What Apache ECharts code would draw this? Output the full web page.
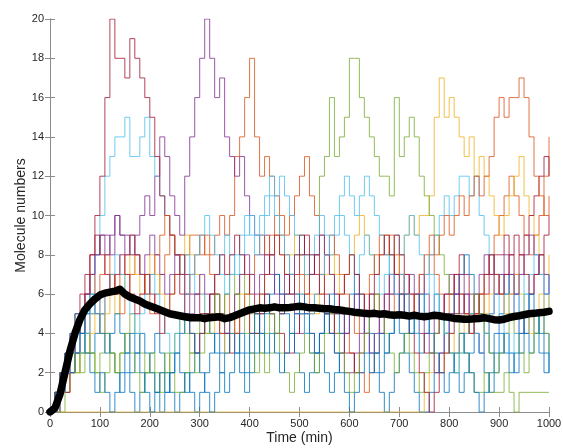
<!DOCTYPE html>
<html>
<head>
<meta charset="utf-8">
<script src="https://cdn.jsdelivr.net/npm/echarts@6/dist/echarts.min.js"></script>
<style>
  html, body { margin: 0; padding: 0; background: #fff; }
  #chart { width: 563px; height: 448px; }
</style>
</head>
<body>
<div id="chart"></div>
<script>
// 轨迹数据，每 10 min 一个采样点 (0 ~ 1000)
const blue1 = [
  0, 0, 1, 2, 3, 4, 5, 4, 3, 4,
  5, 4, 3, 2, 1, 2, 1, 0, 1, 2,
  3, 4, 3, 2, 1, 0, 1, 2, 1, 0,
  1, 2, 3, 4, 3, 4, 5, 4, 3, 2,
  3, 4, 5, 6, 5, 4, 5, 6, 7, 6,
  5, 4, 3, 2, 3, 2, 1, 2, 3, 4,
  5, 6, 5, 4, 3, 2, 1, 0, 1, 2,
  3, 4, 5, 4, 3, 4, 5, 6, 5, 4,
  3, 2, 1, 2, 3, 4, 3, 2, 1, 2,
  3, 4, 3, 2, 3, 4, 5, 4, 3, 2,
  3
]
const orange1 = [
  0, 1, 2, 2, 3, 4, 3, 4, 5, 6,
  5, 6, 7, 6, 5, 6, 7, 8, 7, 6,
  5, 6, 7, 8, 9, 8, 7, 8, 9, 9,
  8, 9, 8, 9, 10, 9, 10, 13, 14, 16,
  18, 14, 12, 13, 12, 11, 10, 9, 10, 11,
  12, 13, 11, 10, 9, 8, 7, 6, 5, 4,
  3, 2, 2, 1, 2, 3, 4, 5, 6, 5,
  6, 7, 6, 5, 6, 7, 8, 7, 6, 5,
  6, 7, 6, 5, 4, 5, 6, 7, 8, 9,
  10, 11, 12, 11, 10, 9, 8, 9, 10, 12,
  14
]
const yellow1 = [
  0, 0, 1, 1, 2, 2, 3, 3, 4, 5,
  4, 5, 6, 5, 6, 7, 8, 7, 6, 7,
  8, 7, 6, 5, 6, 7, 8, 9, 8, 7,
  6, 5, 4, 5, 4, 3, 4, 5, 6, 5,
  4, 5, 6, 7, 8, 9, 8, 7, 8, 9,
  8, 7, 6, 5, 6, 7, 8, 7, 6, 7,
  8, 9, 10, 9, 8, 7, 8, 9, 8, 7,
  8, 9, 10, 9, 10, 10, 11, 15, 17, 15,
  16, 15, 14, 13, 14, 12, 13, 12, 11, 10,
  9, 10, 11, 12, 13, 11, 10, 9, 8, 7,
  8
]
const purple1 = [
  0, 1, 2, 3, 3, 4, 5, 6, 7, 8,
  9, 9, 8, 10, 9, 9, 8, 9, 10, 11,
  10, 12, 14, 13, 11, 10, 9, 12, 14, 16,
  18, 20, 18, 16, 17, 14, 13, 12, 13, 11,
  10, 9, 8, 9, 8, 7, 6, 7, 6, 5,
  4, 5, 4, 3, 4, 5, 4, 3, 3, 2,
  2, 3, 4, 5, 6, 5, 4, 5, 6, 7,
  7, 6, 5, 6, 7, 6, 5, 4, 5, 6,
  7, 6, 5, 6, 5, 4, 3, 4, 5, 6,
  6, 7, 6, 5, 4, 5, 6, 7, 8, 7,
  6
]
const green1 = [
  0, 0, 0, 1, 2, 3, 2, 3, 3, 2,
  3, 4, 3, 2, 3, 4, 5, 4, 3, 2,
  2, 1, 2, 3, 2, 1, 1, 2, 3, 4,
  5, 4, 5, 6, 5, 4, 5, 6, 7, 6,
  5, 4, 3, 2, 3, 4, 5, 6, 7, 8,
  9, 8, 7, 8, 12, 13, 16, 13, 14, 15,
  18, 18, 16, 15, 14, 13, 12, 12, 11, 16,
  13, 14, 15, 14, 12, 11, 10, 9, 8, 7,
  6, 5, 4, 3, 2, 1, 1, 2, 1, 1,
  1, 2, 1, 0, 1, 1, 1, 1, 1, 1,
  1
]
const cyan1 = [
  0, 0, 1, 2, 2, 3, 4, 5, 6, 8,
  10, 12, 13, 14, 14, 15, 13, 13, 14, 15,
  13, 12, 11, 10, 9, 8, 7, 8, 7, 6,
  6, 5, 6, 7, 8, 9, 8, 7, 8, 9,
  10, 9, 10, 11, 12, 11, 12, 11, 10, 9,
  8, 7, 8, 9, 10, 9, 8, 9, 10, 9,
  8, 7, 8, 9, 8, 7, 6, 7, 8, 9,
  8, 9, 10, 9, 8, 7, 8, 9, 10, 11,
  10, 11, 12, 12, 11, 12, 10, 9, 8, 7,
  7, 6, 5, 6, 7, 6, 5, 4, 5, 6,
  5
]
const darkred1 = [
  0, 0, 1, 1, 2, 3, 4, 6, 8, 10,
  12, 16, 20, 18, 18, 17, 19, 18, 17, 16,
  15, 13, 11, 10, 9, 8, 8, 7, 6, 6,
  5, 5, 6, 5, 4, 4, 3, 4, 5, 5,
  4, 4, 5, 6, 5, 4, 4, 3, 3, 4,
  5, 6, 7, 8, 7, 6, 5, 4, 4, 3,
  3, 2, 3, 4, 5, 6, 5, 6, 7, 9,
  8, 7, 6, 5, 4, 3, 3, 4, 5, 6,
  6, 7, 8, 7, 6, 5, 5, 6, 7, 8,
  8, 9, 8, 7, 8, 9, 10, 11, 12, 13,
  12
]
const blue2 = [
  0, 1, 1, 2, 2, 3, 4, 5, 6, 5,
  4, 3, 4, 5, 4, 3, 2, 3, 4, 3,
  2, 1, 0, 1, 2, 3, 2, 1, 2, 3,
  4, 5, 4, 3, 2, 3, 4, 3, 2, 1,
  2, 3, 4, 5, 6, 7, 6, 5, 4, 3,
  2, 1, 2, 3, 4, 5, 6, 5, 4, 5,
  6, 7, 6, 5, 4, 3, 2, 3, 4, 5,
  4, 3, 2, 1, 0, 0, 1, 2, 3, 4,
  5, 6, 7, 8, 7, 6, 5, 4, 3, 4,
  5, 6, 7, 6, 5, 4, 3, 4, 5, 4,
  3
]
const orange2 = [
  0, 0, 1, 2, 3, 4, 5, 6, 7, 6,
  7, 8, 7, 6, 7, 8, 9, 8, 7, 6,
  7, 8, 9, 10, 9, 8, 7, 6, 7, 8,
  9, 8, 7, 6, 5, 6, 5, 4, 5, 6,
  7, 8, 9, 8, 9, 10, 9, 8, 7, 6,
  7, 6, 5, 6, 7, 8, 9, 8, 7, 6,
  5, 4, 5, 6, 7, 8, 9, 8, 9, 8,
  7, 6, 5, 6, 7, 8, 9, 8, 9, 10,
  9, 10, 11, 10, 11, 12, 11, 12, 13, 15,
  16, 15, 16, 16, 17, 16, 14, 12, 11, 10,
  11
]
const yellow2 = [
  0, 0, 0, 0, 0, 0, 0, 0, 0, 0,
  0, 0, 0, 0, 0, 0, 0, 0, 0, 0,
  0, 0, 0, 0, 0, 0, 0, 0, 0, 0,
  0, 0, 0, 0, 0, 0, 0, 0, 0, 0,
  0, 0, 0, 0, 0, 0, 0, 0, 0, 0,
  0, 0, 0, 0, 0, 0, 0, 0, 0, 0,
  0, 0, 0, 0, 0, 0, 0, 0, 0, 0,
  0, 0, 0, 0, 0, 1, 2, 3, 2, 3,
  4, 3, 4, 5, 4, 5, 6, 5, 6, 7,
  6, 5, 6, 7, 6, 5, 4, 5, 6, 5,
  6
]
const purple2 = [
  0, 1, 2, 2, 3, 4, 5, 6, 7, 8,
  9, 8, 9, 10, 9, 8, 9, 8, 7, 8,
  9, 8, 7, 6, 7, 8, 7, 6, 5, 6,
  7, 6, 5, 6, 5, 4, 5, 6, 7, 8,
  7, 6, 7, 8, 7, 6, 5, 6, 7, 8,
  9, 8, 7, 8, 9, 8, 7, 6, 5, 4,
  5, 6, 5, 4, 3, 4, 5, 6, 7, 6,
  5, 6, 7, 6, 5, 4, 3, 2, 3, 4,
  5, 6, 7, 6, 5, 6, 7, 8, 7, 6,
  7, 8, 7, 6, 7, 8, 9, 8, 7, 6,
  7
]
const green2 = [
  0, 1, 2, 3, 3, 2, 3, 4, 3, 2,
  1, 2, 3, 2, 3, 4, 3, 2, 1, 2,
  3, 2, 1, 2, 3, 4, 5, 4, 3, 2,
  3, 4, 5, 6, 5, 6, 7, 6, 5, 4,
  3, 2, 3, 4, 5, 4, 3, 2, 1, 2,
  3, 4, 3, 2, 3, 4, 5, 4, 3, 2,
  1, 2, 3, 4, 5, 6, 5, 4, 3, 2,
  3, 4, 3, 2, 1, 2, 3, 4, 5, 4,
  3, 2, 3, 4, 5, 6, 5, 4, 3, 2,
  3, 4, 5, 4, 3, 2, 3, 4, 5, 4,
  3
]
const cyan2 = [
  0, 0, 1, 2, 3, 4, 3, 4, 5, 6,
  5, 6, 7, 8, 7, 6, 5, 4, 5, 6,
  7, 6, 5, 4, 3, 4, 5, 6, 7, 8,
  9, 10, 9, 8, 7, 6, 7, 8, 9, 10,
  9, 8, 9, 10, 11, 10, 9, 8, 7, 6,
  5, 4, 5, 6, 7, 8, 9, 10, 11, 12,
  11, 10, 11, 12, 11, 10, 9, 8, 7, 6,
  7, 6, 5, 4, 5, 6, 7, 6, 5, 4,
  3, 2, 3, 4, 5, 4, 3, 4, 5, 6,
  5, 4, 3, 4, 5, 6, 7, 8, 7, 6,
  7
]
const darkred2 = [
  0, 1, 2, 3, 4, 5, 6, 7, 8, 9,
  8, 7, 6, 7, 8, 7, 6, 5, 6, 7,
  6, 5, 4, 5, 6, 7, 6, 5, 4, 3,
  4, 5, 6, 7, 8, 7, 8, 9, 8, 7,
  6, 5, 6, 7, 8, 9, 8, 7, 6, 7,
  8, 9, 8, 7, 6, 5, 4, 5, 6, 7,
  8, 7, 6, 5, 6, 7, 8, 9, 8, 7,
  6, 5, 4, 3, 2, 1, 0, 1, 2, 3,
  4, 5, 6, 5, 4, 5, 6, 7, 8, 7,
  6, 7, 8, 9, 8, 7, 6, 7, 8, 9,
  10
]
const blue3 = [
  0, 1, 2, 3, 4, 5, 4, 3, 2, 1,
  2, 1, 0, 1, 2, 3, 4, 3, 2, 1,
  0, 1, 2, 1, 2, 3, 4, 5, 4, 3,
  2, 1, 0, 1, 2, 1, 2, 3, 4, 3,
  4, 5, 4, 3, 4, 3, 2, 3, 4, 5,
  6, 5, 4, 3, 4, 5, 4, 3, 2, 1,
  0, 1, 2, 3, 2, 3, 4, 3, 4, 5,
  6, 5, 4, 5, 6, 5, 4, 3, 2, 1,
  2, 3, 4, 3, 2, 1, 0, 1, 2, 3,
  4, 3, 2, 3, 4, 5, 6, 5, 4, 3,
  2
]
// 平均值 (黑色粗线)
const meanValue = [
  0, 0.2, 0.9, 2.0, 3.1, 4.0, 4.7, 5.2, 5.5, 5.75,
  5.95, 6.05, 6.1, 6.15, 6.25, 6.0, 5.85, 5.75, 5.65, 5.5,
  5.4, 5.3, 5.2, 5.1, 5.0, 4.95, 4.9, 4.85, 4.8, 4.8,
  4.8, 4.75, 4.8, 4.82, 4.85, 4.75, 4.8, 4.9, 5.0, 5.1,
  5.2, 5.25, 5.3, 5.28, 5.3, 5.35, 5.3, 5.3, 5.32, 5.35,
  5.38, 5.35, 5.3, 5.3, 5.28, 5.25, 5.25, 5.22, 5.2, 5.15,
  5.12, 5.08, 5.05, 5.02, 5.0, 5.02, 4.98, 5.0, 4.95, 4.92,
  4.95, 4.92, 4.88, 4.92, 4.88, 4.85, 4.88, 4.92, 4.9, 4.85,
  4.82, 4.76, 4.75, 4.72, 4.72, 4.74, 4.76, 4.8, 4.75, 4.7,
  4.68, 4.72, 4.8, 4.86, 4.9, 4.95, 5.0, 5.02, 5.05, 5.08,
  5.12
]

// 颜色按 MATLAB 默认顺序循环
const traces = [blue1, orange1, yellow1, purple1, green1, cyan1, darkred1,
  blue2, orange2, yellow2, purple2, green2, cyan2, darkred2, blue3]
const colors = ['#0072BD', '#D95319', '#EDB120', '#7E2F8E', '#77AC30', '#4DBEEE', '#A2142F']

const myChart = echarts.init(document.getElementById('chart'))

// 数组配上时间 (每点 10 min)
function withTime (arr) {
  return arr.map((v, i) => [i * 10, v])
}

let series = traces.map((arr, i) => ({
  type: 'line',
  step: 'end',
  symbol: 'none',
  silent: true,
  data: withTime(arr),
  lineStyle: { width: 1, color: colors[i % 7], opacity: 0.8 }
}))
series.push({
  type: 'line',
  symbol: 'none',
  silent: true,
  z: 10,
  data: withTime(meanValue),
  lineStyle: { width: 7.5, color: '#000', cap: 'round', join: 'round' }
})

const axisColor = '#8c8c8c'
const fontFamily = 'Liberation Sans, Arial, sans-serif'
const labelStyle = { color: '#262626', fontSize: 11, fontFamily: fontFamily }

const option = {
  backgroundColor: '#fff',
  animation: false,
  grid: { left: 50, right: 14, top: 19, bottom: 36, containLabel: false, outerBoundsMode: 'none' },
  xAxis: [{
    type: 'value',
    min: 0,
    max: 1000,
    interval: 100,
    name: 'Time (min)',
    nameLocation: 'middle',
    nameGap: 19,
    nameMoveOverlap: false,
    nameTextStyle: { color: '#262626', fontSize: 14, fontFamily: fontFamily },
    axisLine: { lineStyle: { color: axisColor } },
    axisTick: { inside: true, length: 5, lineStyle: { color: axisColor } },
    axisLabel: Object.assign({ margin: 6, formatter: v => String(v) }, labelStyle),
    splitLine: { show: false }
  }, {
    type: 'value',
    position: 'top',
    min: 0,
    max: 1000,
    interval: 100,
    axisLine: { lineStyle: { color: axisColor } },
    axisTick: { inside: true, length: 5, lineStyle: { color: axisColor } },
    axisLabel: { show: false },
    splitLine: { show: false }
  }],
  yAxis: [{
    type: 'value',
    min: 0,
    max: 20,
    interval: 2,
    name: 'Molecule numbers',
    nameLocation: 'middle',
    nameGap: 22,
    nameMoveOverlap: false,
    nameTextStyle: { color: '#262626', fontSize: 14, fontFamily: fontFamily },
    axisLine: { show: true, lineStyle: { color: axisColor } },
    axisTick: { show: true, inside: true, length: 5, lineStyle: { color: axisColor } },
    axisLabel: Object.assign({ margin: 6 }, labelStyle),
    splitLine: { show: false }
  }, {
    type: 'value',
    position: 'right',
    min: 0,
    max: 20,
    interval: 2,
    axisLine: { show: true, lineStyle: { color: axisColor } },
    axisTick: { show: true, inside: true, length: 5, lineStyle: { color: axisColor } },
    axisLabel: { show: false },
    splitLine: { show: false }
  }],
  series: series
}

myChart.setOption(option)
</script>
</body>
</html>
